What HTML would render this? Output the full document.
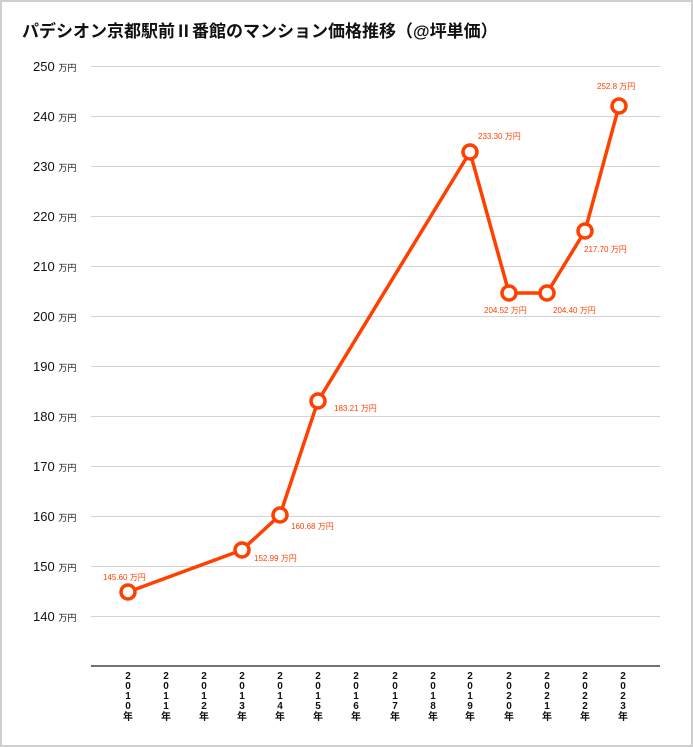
<!DOCTYPE html>
<html><head><meta charset="utf-8"><style>
html,body{margin:0;padding:0;background:#fff}
svg{display:block}
text{font-family:"Liberation Sans","Noto Sans CJK JP",sans-serif}
</style></head><body>
<svg width="693" height="747" viewBox="0 0 693 747" xmlns="http://www.w3.org/2000/svg">
<rect x="1" y="1" width="691" height="745" fill="#fff" stroke="#cfcfcf" stroke-width="2"/>
<text x="22" y="37" font-size="17" font-weight="bold" fill="#111">パデシオン京都駅前Ⅱ番館のマンション価格推移（@坪単価）</text>
<g stroke="#d4d4d4" stroke-width="1">
<line x1="91" y1="66.5" x2="660" y2="66.5"/><line x1="91" y1="116.5" x2="660" y2="116.5"/>
<line x1="91" y1="166.5" x2="660" y2="166.5"/><line x1="91" y1="216.5" x2="660" y2="216.5"/>
<line x1="91" y1="266.5" x2="660" y2="266.5"/><line x1="91" y1="316.5" x2="660" y2="316.5"/>
<line x1="91" y1="366.5" x2="660" y2="366.5"/><line x1="91" y1="416.5" x2="660" y2="416.5"/>
<line x1="91" y1="466.5" x2="660" y2="466.5"/><line x1="91" y1="516.5" x2="660" y2="516.5"/>
<line x1="91" y1="566.5" x2="660" y2="566.5"/><line x1="91" y1="616.5" x2="660" y2="616.5"/>
</g>
<line x1="91" y1="666" x2="660" y2="666" stroke="#444" stroke-width="1.5"/>
<g font-size="13" fill="#111">
<text x="33" y="71">250 <tspan font-size="9">万円</tspan></text>
<text x="33" y="121">240 <tspan font-size="9">万円</tspan></text>
<text x="33" y="171">230 <tspan font-size="9">万円</tspan></text>
<text x="33" y="221">220 <tspan font-size="9">万円</tspan></text>
<text x="33" y="271">210 <tspan font-size="9">万円</tspan></text>
<text x="33" y="321">200 <tspan font-size="9">万円</tspan></text>
<text x="33" y="371">190 <tspan font-size="9">万円</tspan></text>
<text x="33" y="421">180 <tspan font-size="9">万円</tspan></text>
<text x="33" y="471">170 <tspan font-size="9">万円</tspan></text>
<text x="33" y="521">160 <tspan font-size="9">万円</tspan></text>
<text x="33" y="571">150 <tspan font-size="9">万円</tspan></text>
<text x="33" y="621">140 <tspan font-size="9">万円</tspan></text>
</g>
<g font-size="10" font-weight="bold" fill="#111" text-anchor="middle">
<text x="128" y="679">2</text><text x="128" y="689">0</text><text x="128" y="699">1</text><text x="128" y="709">0</text><text x="128" y="720">年</text>
<text x="166" y="679">2</text><text x="166" y="689">0</text><text x="166" y="699">1</text><text x="166" y="709">1</text><text x="166" y="720">年</text>
<text x="204" y="679">2</text><text x="204" y="689">0</text><text x="204" y="699">1</text><text x="204" y="709">2</text><text x="204" y="720">年</text>
<text x="242" y="679">2</text><text x="242" y="689">0</text><text x="242" y="699">1</text><text x="242" y="709">3</text><text x="242" y="720">年</text>
<text x="280" y="679">2</text><text x="280" y="689">0</text><text x="280" y="699">1</text><text x="280" y="709">4</text><text x="280" y="720">年</text>
<text x="318" y="679">2</text><text x="318" y="689">0</text><text x="318" y="699">1</text><text x="318" y="709">5</text><text x="318" y="720">年</text>
<text x="356" y="679">2</text><text x="356" y="689">0</text><text x="356" y="699">1</text><text x="356" y="709">6</text><text x="356" y="720">年</text>
<text x="395" y="679">2</text><text x="395" y="689">0</text><text x="395" y="699">1</text><text x="395" y="709">7</text><text x="395" y="720">年</text>
<text x="433" y="679">2</text><text x="433" y="689">0</text><text x="433" y="699">1</text><text x="433" y="709">8</text><text x="433" y="720">年</text>
<text x="470" y="679">2</text><text x="470" y="689">0</text><text x="470" y="699">1</text><text x="470" y="709">9</text><text x="470" y="720">年</text>
<text x="509" y="679">2</text><text x="509" y="689">0</text><text x="509" y="699">2</text><text x="509" y="709">0</text><text x="509" y="720">年</text>
<text x="547" y="679">2</text><text x="547" y="689">0</text><text x="547" y="699">2</text><text x="547" y="709">1</text><text x="547" y="720">年</text>
<text x="585" y="679">2</text><text x="585" y="689">0</text><text x="585" y="699">2</text><text x="585" y="709">2</text><text x="585" y="720">年</text>
<text x="623" y="679">2</text><text x="623" y="689">0</text><text x="623" y="699">2</text><text x="623" y="709">3</text><text x="623" y="720">年</text>
</g>
<polyline points="128,592 242,550 280,515 318,401 470,152 509,293 547,293 585,231 619,106" fill="none" stroke="#ff4000" stroke-width="3.5" stroke-linejoin="round"/>
<g fill="#fff" stroke="#ff4000" stroke-width="3.5">
<circle cx="128" cy="592" r="7"/><circle cx="242" cy="550" r="7"/><circle cx="280" cy="515" r="7"/>
<circle cx="318" cy="401" r="7"/><circle cx="470" cy="152" r="7"/><circle cx="509" cy="293" r="7"/>
<circle cx="547" cy="293" r="7"/><circle cx="585" cy="231" r="7"/><circle cx="619" cy="106" r="7"/>
</g>
<g font-size="8" fill="#ff4000">
<text x="103" y="580">145.60 万円</text>
<text x="254" y="561">152.99 万円</text>
<text x="291" y="529">160.68 万円</text>
<text x="334" y="411">183.21 万円</text>
<text x="478" y="139">233.30 万円</text>
<text x="484" y="313">204.52 万円</text>
<text x="553" y="313">204.40 万円</text>
<text x="584" y="252">217.70 万円</text>
<text x="597" y="89">252.8 万円</text>
</g>
</svg>
</body></html>
